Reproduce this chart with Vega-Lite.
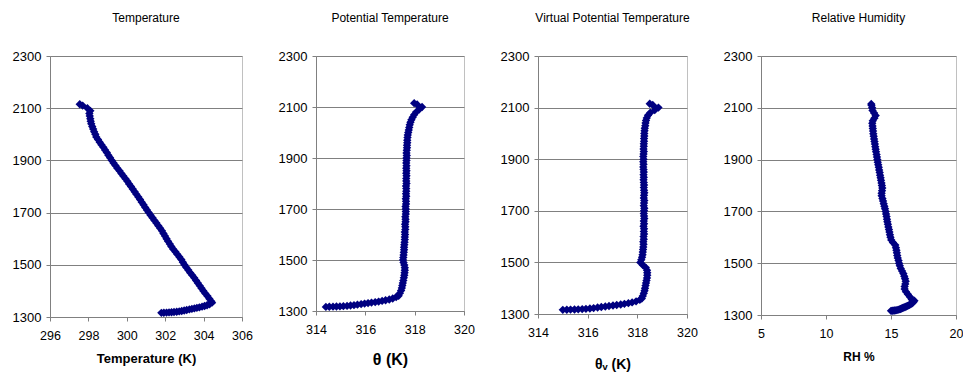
{
  "$schema": "https://vega.github.io/schema/vega-lite/v6.json",
  "padding": {"left": 11, "top": 11, "right": 0, "bottom": 0},
  "background": "white",
  "bounds": "flush",
  "spacing": 74,
  "config": {
    "font": "Liberation Sans",
    "view": {"stroke": "#c0c0c0", "strokeWidth": 1},
    "axis": {"labelFont": "Liberation Sans", "labelFontSize": 12.5, "labelColor": "black", "domainColor": "#808080", "tickColor": "#808080", "tickSize": 4, "gridColor": "#808080", "gridOpacity": 1, "titleColor": "black", "titleFont": "Liberation Sans", "titleFontWeight": "bold"},
    "axisX": {"grid": false, "labelPadding": 8, "labelFlush": false},
    "axisY": {"grid": true, "labelPadding": 5, "labelFlush": false, "format": "d", "labelFontSize": 13},
    "title": {"font": "Liberation Sans", "fontSize": 12, "fontWeight": "normal", "color": "black", "offset": 25}
  },
  "datasets": {
    "profile": [
      {"alt": 1316, "T": 301.80, "th": 314.40, "thv": 315.00, "rh": 15.00},
      {"alt": 1316.5, "T": 301.93, "th": 314.54, "thv": 315.16, "rh": 15.09},
      {"alt": 1317, "T": 302.07, "th": 314.69, "thv": 315.31, "rh": 15.18},
      {"alt": 1317.5, "T": 302.20, "th": 314.83, "thv": 315.47, "rh": 15.27},
      {"alt": 1318, "T": 302.33, "th": 314.97, "thv": 315.62, "rh": 15.36},
      {"alt": 1319, "T": 302.46, "th": 315.11, "thv": 315.78, "rh": 15.45},
      {"alt": 1320, "T": 302.60, "th": 315.26, "thv": 315.93, "rh": 15.54},
      {"alt": 1321.5, "T": 302.73, "th": 315.40, "thv": 316.09, "rh": 15.63},
      {"alt": 1323, "T": 302.86, "th": 315.54, "thv": 316.24, "rh": 15.72},
      {"alt": 1325, "T": 302.99, "th": 315.68, "thv": 316.40, "rh": 15.81},
      {"alt": 1327, "T": 303.12, "th": 315.83, "thv": 316.55, "rh": 15.90},
      {"alt": 1329, "T": 303.26, "th": 315.97, "thv": 316.71, "rh": 15.99},
      {"alt": 1331, "T": 303.39, "th": 316.11, "thv": 316.86, "rh": 16.08},
      {"alt": 1333, "T": 303.52, "th": 316.25, "thv": 317.02, "rh": 16.17},
      {"alt": 1335, "T": 303.65, "th": 316.40, "thv": 317.17, "rh": 16.26},
      {"alt": 1337, "T": 303.78, "th": 316.54, "thv": 317.33, "rh": 16.35},
      {"alt": 1339.5, "T": 303.92, "th": 316.68, "thv": 317.48, "rh": 16.44},
      {"alt": 1342, "T": 304.05, "th": 316.82, "thv": 317.64, "rh": 16.53},
      {"alt": 1345, "T": 304.18, "th": 316.97, "thv": 317.79, "rh": 16.62},
      {"alt": 1349, "T": 304.31, "th": 317.11, "thv": 317.95, "rh": 16.71},
      {"alt": 1355, "T": 304.44, "th": 317.25, "thv": 318.10, "rh": 16.80},
      {"alt": 1360, "T": 304.40, "th": 317.35, "thv": 318.18, "rh": 16.60},
      {"alt": 1370, "T": 304.30, "th": 317.40, "thv": 318.22, "rh": 16.45},
      {"alt": 1380, "T": 304.20, "th": 317.45, "thv": 318.26, "rh": 16.30},
      {"alt": 1390, "T": 304.09, "th": 317.48, "thv": 318.29, "rh": 16.15},
      {"alt": 1400, "T": 303.99, "th": 317.50, "thv": 318.31, "rh": 16.05},
      {"alt": 1410, "T": 303.89, "th": 317.52, "thv": 318.33, "rh": 16.05},
      {"alt": 1420, "T": 303.80, "th": 317.54, "thv": 318.35, "rh": 16.10},
      {"alt": 1430, "T": 303.70, "th": 317.56, "thv": 318.37, "rh": 16.13},
      {"alt": 1440, "T": 303.61, "th": 317.58, "thv": 318.39, "rh": 16.08},
      {"alt": 1450, "T": 303.51, "th": 317.59, "thv": 318.40, "rh": 16.02},
      {"alt": 1460, "T": 303.41, "th": 317.60, "thv": 318.40, "rh": 15.95},
      {"alt": 1470, "T": 303.30, "th": 317.60, "thv": 318.39, "rh": 15.85},
      {"alt": 1480, "T": 303.20, "th": 317.58, "thv": 318.34, "rh": 15.75},
      {"alt": 1490, "T": 303.10, "th": 317.55, "thv": 318.22, "rh": 15.68},
      {"alt": 1500, "T": 303.00, "th": 317.53, "thv": 318.12, "rh": 15.62},
      {"alt": 1510, "T": 302.92, "th": 317.54, "thv": 318.16, "rh": 15.58},
      {"alt": 1520, "T": 302.84, "th": 317.55, "thv": 318.19, "rh": 15.52},
      {"alt": 1530, "T": 302.74, "th": 317.56, "thv": 318.21, "rh": 15.48},
      {"alt": 1540, "T": 302.63, "th": 317.57, "thv": 318.22, "rh": 15.45},
      {"alt": 1550, "T": 302.53, "th": 317.57, "thv": 318.23, "rh": 15.42},
      {"alt": 1560, "T": 302.42, "th": 317.58, "thv": 318.24, "rh": 15.38},
      {"alt": 1570, "T": 302.32, "th": 317.59, "thv": 318.25, "rh": 15.33},
      {"alt": 1580, "T": 302.24, "th": 317.60, "thv": 318.24, "rh": 15.15},
      {"alt": 1590, "T": 302.15, "th": 317.60, "thv": 318.26, "rh": 15.02},
      {"alt": 1600, "T": 302.07, "th": 317.61, "thv": 318.25, "rh": 14.96},
      {"alt": 1610, "T": 301.99, "th": 317.60, "thv": 318.27, "rh": 14.92},
      {"alt": 1620, "T": 301.91, "th": 317.62, "thv": 318.26, "rh": 14.88},
      {"alt": 1630, "T": 301.83, "th": 317.62, "thv": 318.27, "rh": 14.84},
      {"alt": 1640, "T": 301.74, "th": 317.61, "thv": 318.25, "rh": 14.80},
      {"alt": 1650, "T": 301.64, "th": 317.63, "thv": 318.27, "rh": 14.76},
      {"alt": 1660, "T": 301.54, "th": 317.63, "thv": 318.26, "rh": 14.72},
      {"alt": 1670, "T": 301.44, "th": 317.62, "thv": 318.28, "rh": 14.69},
      {"alt": 1680, "T": 301.34, "th": 317.64, "thv": 318.27, "rh": 14.66},
      {"alt": 1690, "T": 301.24, "th": 317.64, "thv": 318.26, "rh": 14.62},
      {"alt": 1700, "T": 301.14, "th": 317.64, "thv": 318.27, "rh": 14.59},
      {"alt": 1710, "T": 301.05, "th": 317.63, "thv": 318.28, "rh": 14.54},
      {"alt": 1720, "T": 300.96, "th": 317.65, "thv": 318.26, "rh": 14.49},
      {"alt": 1730, "T": 300.87, "th": 317.65, "thv": 318.27, "rh": 14.44},
      {"alt": 1740, "T": 300.78, "th": 317.64, "thv": 318.28, "rh": 14.39},
      {"alt": 1750, "T": 300.69, "th": 317.66, "thv": 318.26, "rh": 14.34},
      {"alt": 1760, "T": 300.60, "th": 317.65, "thv": 318.27, "rh": 14.28},
      {"alt": 1770, "T": 300.50, "th": 317.66, "thv": 318.28, "rh": 14.28},
      {"alt": 1780, "T": 300.41, "th": 317.66, "thv": 318.27, "rh": 14.31},
      {"alt": 1790, "T": 300.31, "th": 317.65, "thv": 318.26, "rh": 14.33},
      {"alt": 1800, "T": 300.22, "th": 317.67, "thv": 318.27, "rh": 14.30},
      {"alt": 1810, "T": 300.12, "th": 317.66, "thv": 318.26, "rh": 14.27},
      {"alt": 1820, "T": 300.03, "th": 317.66, "thv": 318.25, "rh": 14.23},
      {"alt": 1830, "T": 299.93, "th": 317.67, "thv": 318.26, "rh": 14.20},
      {"alt": 1840, "T": 299.82, "th": 317.66, "thv": 318.25, "rh": 14.16},
      {"alt": 1850, "T": 299.72, "th": 317.67, "thv": 318.26, "rh": 14.13},
      {"alt": 1860, "T": 299.62, "th": 317.66, "thv": 318.25, "rh": 14.09},
      {"alt": 1870, "T": 299.51, "th": 317.67, "thv": 318.24, "rh": 14.06},
      {"alt": 1880, "T": 299.41, "th": 317.66, "thv": 318.25, "rh": 14.02},
      {"alt": 1890, "T": 299.31, "th": 317.67, "thv": 318.24, "rh": 13.98},
      {"alt": 1900, "T": 299.22, "th": 317.67, "thv": 318.25, "rh": 13.95},
      {"alt": 1910, "T": 299.13, "th": 317.68, "thv": 318.24, "rh": 13.92},
      {"alt": 1920, "T": 299.04, "th": 317.67, "thv": 318.25, "rh": 13.89},
      {"alt": 1930, "T": 298.96, "th": 317.68, "thv": 318.26, "rh": 13.85},
      {"alt": 1940, "T": 298.87, "th": 317.69, "thv": 318.25, "rh": 13.82},
      {"alt": 1950, "T": 298.78, "th": 317.69, "thv": 318.26, "rh": 13.79},
      {"alt": 1960, "T": 298.68, "th": 317.70, "thv": 318.26, "rh": 13.76},
      {"alt": 1970, "T": 298.59, "th": 317.70, "thv": 318.27, "rh": 13.73},
      {"alt": 1980, "T": 298.50, "th": 317.71, "thv": 318.27, "rh": 13.70},
      {"alt": 1990, "T": 298.41, "th": 317.72, "thv": 318.28, "rh": 13.67},
      {"alt": 2000, "T": 298.36, "th": 317.74, "thv": 318.28, "rh": 13.64},
      {"alt": 2010, "T": 298.30, "th": 317.76, "thv": 318.29, "rh": 13.62},
      {"alt": 2020, "T": 298.25, "th": 317.78, "thv": 318.30, "rh": 13.60},
      {"alt": 2030, "T": 298.20, "th": 317.80, "thv": 318.32, "rh": 13.58},
      {"alt": 2040, "T": 298.15, "th": 317.83, "thv": 318.33, "rh": 13.56},
      {"alt": 2050, "T": 298.12, "th": 317.87, "thv": 318.35, "rh": 13.60},
      {"alt": 2060, "T": 298.10, "th": 317.92, "thv": 318.38, "rh": 13.72},
      {"alt": 2070, "T": 298.07, "th": 317.98, "thv": 318.43, "rh": 13.82},
      {"alt": 2080, "T": 298.05, "th": 318.06, "thv": 318.52, "rh": 13.70},
      {"alt": 2090, "T": 298.10, "th": 318.18, "thv": 318.70, "rh": 13.58},
      {"alt": 2100, "T": 297.95, "th": 318.30, "thv": 318.85, "rh": 13.55},
      {"alt": 2110, "T": 297.70, "th": 318.10, "thv": 318.62, "rh": 13.50},
      {"alt": 2115, "T": 297.55, "th": 317.98, "thv": 318.50, "rh": 13.48}
    ]
  },
  "hconcat": [
    {
      "title": {"text": "Temperature", "frame": "group"},
      "width": 192, "height": 261,
      "data": {"name": "profile"},
      "mark": {"type": "line", "color": "#000080", "strokeWidth": 3.5, "point": {"shape": "diamond", "filled": true, "size": 70, "color": "#000080"}},
      "encoding": {
        "x": {"field": "T", "type": "quantitative", "scale": {"domain": [296, 306], "nice": false, "zero": false}, "axis": {"values": [296, 298, 300, 302, 304, 306], "title": "Temperature (K)", "titleFontSize": 13, "titlePadding": 11}},
        "y": {"field": "alt", "type": "quantitative", "scale": {"domain": [1300, 2300], "nice": false, "zero": false}, "axis": {"values": [1300, 1500, 1700, 1900, 2100, 2300], "title": null}},
        "order": {"field": "alt", "type": "quantitative"}
      }
    },
    {
      "title": {"text": "Potential Temperature", "frame": "group"},
      "width": 148, "height": 255,
      "data": {"name": "profile"},
      "mark": {"type": "line", "color": "#000080", "strokeWidth": 3.5, "point": {"shape": "diamond", "filled": true, "size": 70, "color": "#000080"}},
      "encoding": {
        "x": {"field": "th", "type": "quantitative", "scale": {"domain": [314, 320], "nice": false, "zero": false}, "axis": {"values": [314, 316, 318, 320], "title": "θ (K)", "titleFontSize": 16, "titlePadding": 16}},
        "y": {"field": "alt", "type": "quantitative", "scale": {"domain": [1300, 2300], "nice": false, "zero": false}, "axis": {"values": [1300, 1500, 1700, 1900, 2100, 2300], "title": null}},
        "order": {"field": "alt", "type": "quantitative"}
      }
    },
    {
      "title": {"text": "Virtual Potential Temperature", "frame": "group"},
      "width": 149, "height": 258,
      "data": {"name": "profile"},
      "mark": {"type": "line", "color": "#000080", "strokeWidth": 3.5, "point": {"shape": "diamond", "filled": true, "size": 70, "color": "#000080"}},
      "encoding": {
        "x": {"field": "thv", "type": "quantitative", "scale": {"domain": [314, 320], "nice": false, "zero": false}, "axis": {"values": [314, 316, 318, 320], "title": "θᵥ (K)", "titleFontSize": 14, "titlePadding": 19}},
        "y": {"field": "alt", "type": "quantitative", "scale": {"domain": [1300, 2300], "nice": false, "zero": false}, "axis": {"values": [1300, 1500, 1700, 1900, 2100, 2300], "title": null}},
        "order": {"field": "alt", "type": "quantitative"}
      }
    },
    {
      "title": {"text": "Relative Humidity", "frame": "group"},
      "width": 195, "height": 259,
      "data": {"name": "profile"},
      "mark": {"type": "line", "color": "#000080", "strokeWidth": 3.5, "point": {"shape": "diamond", "filled": true, "size": 70, "color": "#000080"}},
      "encoding": {
        "x": {"field": "rh", "type": "quantitative", "scale": {"domain": [5, 20], "nice": false, "zero": false}, "axis": {"values": [5, 10, 15, 20], "title": "RH %", "titleFontSize": 12, "titlePadding": 12}},
        "y": {"field": "alt", "type": "quantitative", "scale": {"domain": [1300, 2300], "nice": false, "zero": false}, "axis": {"values": [1300, 1500, 1700, 1900, 2100, 2300], "title": null}},
        "order": {"field": "alt", "type": "quantitative"}
      }
    }
  ]
}
